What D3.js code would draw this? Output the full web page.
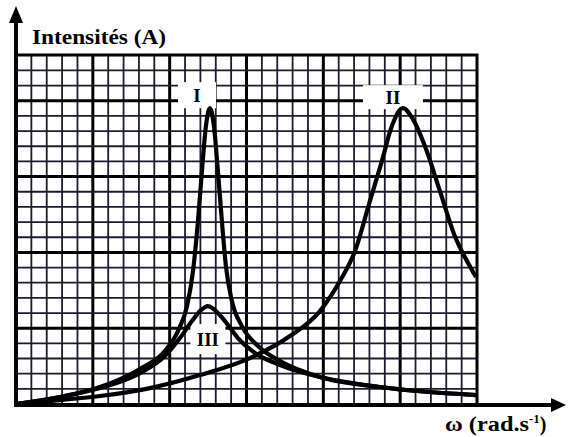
<!DOCTYPE html>
<html>
<head>
<meta charset="utf-8">
<script src="https://cdnjs.cloudflare.com/ajax/libs/d3/7.8.5/d3.min.js"></script>
<style>
  body { margin: 0; background: #fff; }
  svg { display: block; }
</style>
</head>
<body>
<script>
// values are read in grid squares (1 unit = one small square of the paper)
const omegaI = [0, 2.86, 5.47, 8.07, 9.69, 10.54, 11.13, 11.52, 11.84, 12.10, 12.36, 12.62, 12.88, 13.14, 13.40, 13.66, 14.05, 14.70, 15.75, 17.18, 19.78, 23.68, 29.93];
const intensityI = [0, 0.46, 1.12, 2.31, 3.49, 4.81, 6.46, 8.77, 12.06, 15.36, 18.33, 19.51, 18.33, 15.36, 12.06, 9.10, 6.79, 5.14, 3.82, 2.83, 1.78, 1.12, 0.59];

const omegaII = [0, 2.86, 5.47, 8.72, 11.97, 15.22, 17.83, 19.78, 21.08, 22.06, 23.03, 23.81, 24.46, 25.18, 25.83, 26.61, 27.59, 28.56, 29.28, 29.93];
const intensityII = [0, 0.26, 0.53, 1.05, 1.91, 3.03, 4.48, 6.13, 8.11, 10.09, 13.38, 16.02, 18.33, 19.51, 18.79, 17.01, 14.04, 11.07, 9.56, 8.37];

const omegaIII = [0, 2.86, 5.47, 8.07, 9.69, 10.67, 11.45, 11.97, 12.49, 13.01, 13.60, 14.44, 15.55, 17.18, 19.78, 23.68, 29.93];
const intensityIII = [0, 0.46, 1.05, 2.04, 3.16, 4.35, 5.47, 6.13, 6.46, 6.13, 5.47, 4.35, 3.36, 2.57, 1.78, 1.12, 0.59];

// curve names and where their names sit on the paper
const curveNames = ["I", "II", "III"];
const labelOmega = [11.78, 24.53, 12.49];
const labelIntensity = [20.37, 20.24, 4.28];

const xTitle = "ω (rad.s";
const yTitle = "Intensités (A)";

var width = 571,
    height = 437;

// plot area in pixels
var padL = 16, padR = 477, padT = 55, padB = 404;

var x = d3.scaleLinear().domain([0, 30]).range([padL, padR]);
var y = d3.scaleLinear().domain([0, 23]).range([padB, padT + 0.3]);

let svg = d3.select("body").append("svg")
    .attr("width", width)
    .attr("height", height);

// graph paper: thin lines every square, thick every 5 squares
let grid = svg.append("g").attr("class", "grid");

grid.selectAll("line.vx")
    .data(x.ticks(30).filter(d => d > 0 && d < 30))
    .enter()
    .append("line")
    .attr("class", "vx")
    .attr("x1", d => x(d)).attr("x2", d => x(d))
    .attr("y1", padT).attr("y2", padB)
    .attr("stroke", d => d % 5 === 0 ? "#000" : "#1c1c30")
    .attr("stroke-width", d => d % 5 === 0 ? 3 : 1.8);

grid.selectAll("line.hy")
    .data(d3.range(1, 23))
    .enter()
    .append("line")
    .attr("class", "hy")
    .attr("x1", padL).attr("x2", padR)
    .attr("y1", d => y(d)).attr("y2", d => y(d))
    .attr("stroke", d => d % 5 === 0 ? "#000" : "#1c1c30")
    .attr("stroke-width", d => d % 5 === 0 ? 3 : 1.8);

// top and right border of the paper
svg.append("path")
    .attr("d", "M" + padL + "," + padT + "H" + padR + "V" + padB)
    .attr("fill", "none")
    .attr("stroke", "#000")
    .attr("stroke-width", 3);

// white patches behind the curve names
const boxW = { I: 38, II: 60, III: 35 };
const boxH = { I: 26, II: 24, III: 30 };

svg.selectAll("rect.patch")
    .data(curveNames)
    .enter()
    .append("rect")
    .attr("class", "patch")
    .attr("x", (d, i) => x(labelOmega[i]) - boxW[d] / 2)
    .attr("y", (d, i) => y(labelIntensity[i]) - boxH[d] / 2)
    .attr("width", d => boxW[d])
    .attr("height", d => boxH[d])
    .attr("fill", "#fff");

// the three resonance curves
let line = d3.line()
    .x(d => x(d[0]))
    .y(d => y(d[1]))
    .curve(d3.curveMonotoneX);

let curves = [
    d3.zip(omegaI, intensityI),
    d3.zip(omegaII, intensityII),
    d3.zip(omegaIII, intensityIII)
];

svg.selectAll("path.curve")
    .data(curves)
    .enter()
    .append("path")
    .attr("class", "curve")
    .attr("d", line)
    .attr("fill", "none")
    .attr("stroke", "#000")
    .attr("stroke-width", 4.2)
    .attr("stroke-linejoin", "round");

svg.selectAll("text.name")
    .data(curveNames)
    .enter()
    .append("text")
    .attr("class", "name")
    .attr("x", (d, i) => x(labelOmega[i]))
    .attr("y", (d, i) => y(labelIntensity[i]))
    .attr("dy", "0.35em")
    .attr("text-anchor", "middle")
    .attr("font-family", "'Liberation Serif', serif")
    .attr("font-weight", "bold")
    .attr("font-size", 19)
    .text(d => d);

// axes with arrows
svg.append("line")
    .attr("x1", padL).attr("x2", padL)
    .attr("y1", padB + 2).attr("y2", 20)
    .attr("stroke", "#000")
    .attr("stroke-width", 4);

svg.append("path")
    .attr("d", "M" + padL + ",6L" + (padL + 7) + ",23L" + (padL - 7) + ",23Z")
    .attr("fill", "#000");

svg.append("line")
    .attr("x1", padL - 2).attr("x2", 554)
    .attr("y1", padB + 1).attr("y2", padB + 1)
    .attr("stroke", "#000")
    .attr("stroke-width", 4);

svg.append("path")
    .attr("d", "M566," + (padB + 1) + "L551," + (padB - 6) + "L551," + (padB + 8) + "Z")
    .attr("fill", "#000");

// axis titles
svg.append("text")
    .attr("x", 32)
    .attr("y", 44)
    .attr("font-family", "'Liberation Serif', serif")
    .attr("font-weight", "bold")
    .attr("font-size", 21)
    .attr("textLength", 134)
    .attr("lengthAdjust", "spacingAndGlyphs")
    .text(yTitle);

let xt = svg.append("text")
    .attr("x", 445)
    .attr("y", 431)
    .attr("font-family", "'Liberation Serif', serif")
    .attr("font-weight", "bold")
    .attr("font-size", 20);

xt.append("tspan").attr("textLength", 84).attr("lengthAdjust", "spacingAndGlyphs").text(xTitle);
xt.append("tspan").attr("dy", -8).attr("font-size", 13).text("-1");
xt.append("tspan").attr("dy", 8).text(")");
</script>
</body>
</html>
